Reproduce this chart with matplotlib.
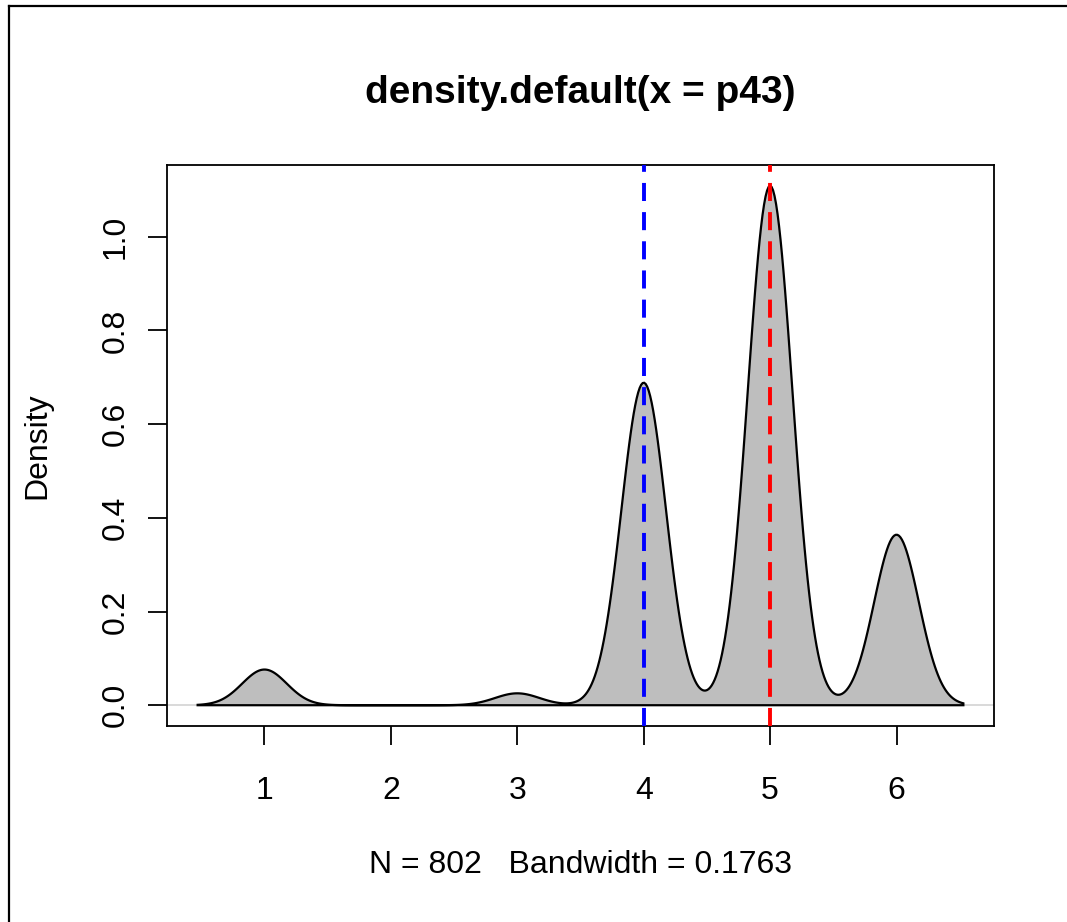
import matplotlib
matplotlib.use('Agg')
import matplotlib.pyplot as plt
import numpy as np

# observed answer values and how often each one occurs (N = 802)
values = [1, 2, 3, 4, 5, 6]
counts = [27, 0, 9, 244, 393, 129]
bandwidth = 0.1763
median_value = 4
mode_value = 5
title = "density.default(x = p43)"

plt.rcParams['font.family'] = ['Liberation Sans', 'DejaVu Sans']
plt.rcParams['lines.scale_dashes'] = False


def gaussian_density(grid, values, counts, bw):
    """Gaussian kernel density estimate, the same as R's density()."""
    vals = np.asarray(values, dtype=float)
    wts = np.asarray(counts, dtype=float)
    z = (grid[:, None] - vals[None, :]) / bw
    dens = (wts[None, :] * np.exp(-0.5 * z ** 2)).sum(axis=1)
    return dens / (wts.sum() * bw * np.sqrt(2 * np.pi))


n_obs = sum(counts)
lo = min(values) - 3 * bandwidth
hi = max(values) + 3 * bandwidth
grid = np.linspace(lo, hi, 512)
dens = gaussian_density(grid, values, counts, bandwidth)

fig = plt.figure(figsize=(10.67, 9.22), dpi=100)
ax = fig.add_axes([167 / 1067, 1 - 726 / 922, (994 - 167) / 1067, (726 - 165) / 922])

# zero line, then the filled density
ax.axhline(0, color='#d3d3d3', lw=1.2, zorder=1)
ax.fill(np.r_[grid, grid[::-1]], np.r_[dens, np.zeros_like(dens)],
        facecolor='#bebebe', edgecolor='black', lw=1.6, zorder=2)

ax.axvline(median_value, color='blue', lw=2.8, dashes=(13, 8), zorder=3)
ax.axvline(mode_value, color='red', lw=2.8, dashes=(13, 8), zorder=3)

# R style 4% padding on both axes
xpad = 0.04 * (hi - lo)
ax.set_xlim(lo - xpad, hi + xpad)
ymax = dens.max()
ax.set_ylim(-0.04 * ymax, ymax * 1.04)

ax.set_xticks(values)
ax.set_yticks([0.0, 0.2, 0.4, 0.6, 0.8, 1.0])
ax.set_yticklabels(['0.0', '0.2', '0.4', '0.6', '0.8', '1.0'], rotation=90, va='center')
ax.tick_params(direction='out', length=14, width=1.3, labelsize=23, colors='black')
ax.tick_params(axis='x', pad=22)
ax.tick_params(axis='y', pad=12)
for sp in ax.spines.values():
    sp.set_linewidth(1.3)

ax.set_title(title, fontsize=28, fontweight='bold', pad=45)
ax.set_xlabel(f"N = {n_obs}   Bandwidth = {bandwidth}", fontsize=23, labelpad=32)
ax.set_ylabel("Density", fontsize=23, labelpad=35)

# frame of the screenshot (left and top edges)
fig.add_artist(plt.Line2D([8.5 / 1067, 8.5 / 1067], [0, 1 - 6 / 922], color='black', lw=1.6))
fig.add_artist(plt.Line2D([8.5 / 1067, 1], [1 - 6 / 922, 1 - 6 / 922], color='black', lw=1.6))

fig.savefig('out.png', dpi=100)
